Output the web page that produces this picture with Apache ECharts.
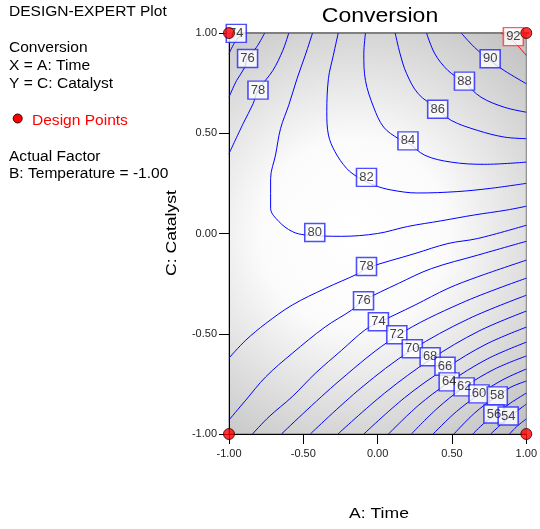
<!DOCTYPE html>
<html>
<head>
<meta charset="utf-8">
<script src="https://cdn.jsdelivr.net/npm/echarts@6/dist/echarts.min.js"></script>
<style>html,body{margin:0;padding:0;background:#fff}#c{width:540px;height:529px}</style>
</head>
<body>
<div id="c"></div>
<script>
// Tick values (both axes)
const tickValues = [-1, -0.5, 0, 0.5, 1];
// Contour polylines: [A: Time, C: Catalyst]
const c92 = [[0.829,1],[0.907,0.963],[1,0.888]];
const c90 = [[0.562,1],[0.651,0.929],[0.751,0.866],[0.851,0.813],[1,0.747]];
const c88 = [[0.329,1],[0.385,0.896],[0.473,0.813],[0.58,0.755],[0.695,0.68],[0.851,0.63],[1,0.605]];
const c86 = [[0.118,1],[0.151,0.896],[0.195,0.797],[0.273,0.697],[0.402,0.622],[0.495,0.564],[0.673,0.514],[0.851,0.481],[1,0.473]];
const c84 = [[-0.082,1],[-0.093,0.896],[-0.082,0.763],[-0.027,0.63],[0.04,0.531],[0.14,0.473],[0.2,0.456],[0.318,0.39],[0.495,0.356],[0.718,0.345],[1,0.356]];
const c82 = [[-0.265,1],[-0.298,0.889],[-0.331,0.773],[-0.342,0.607],[-0.331,0.491],[-0.287,0.408],[-0.209,0.325],[-0.131,0.28],[-0.02,0.24],[0.091,0.217],[0.269,0.202],[0.535,0.209],[0.758,0.225],[1,0.25]];
const c80 = [[-0.438,1],[-0.487,0.889],[-0.542,0.773],[-0.598,0.64],[-0.653,0.524],[-0.687,0.391],[-0.72,0.275],[-0.72,0.126],[-0.665,0.06],[-0.575,0.01],[-0.487,-0.007],[-0.242,-0.014],[0.0,0.0],[0.202,0.035],[0.425,0.063],[0.647,0.092],[0.869,0.117],[1,0.136]];
const c78a = [[-0.598,1],[-0.638,0.913],[-0.705,0.813],[-0.805,0.714],[-0.838,0.647],[-0.905,0.548],[-1,0.398]];
const c78b = [[-1,-0.621],[-0.887,-0.532],[-0.753,-0.449],[-0.575,-0.357],[-0.353,-0.274],[-0.131,-0.2],[-0.071,-0.172],[0.251,-0.1],[0.473,-0.05],[0.673,-0.025],[1,0.041]];
const c76a = [[-0.76,1],[-0.815,0.929],[-0.878,0.874],[-0.893,0.83],[-0.949,0.763],[-1,0.68]];
const c76b = [[-1,-0.93],[-0.887,-0.831],[-0.753,-0.715],[-0.575,-0.598],[-0.353,-0.466],[-0.175,-0.382],[-0.1,-0.337],[0.14,-0.249],[0.362,-0.175],[0.673,-0.108],[1,-0.039]];
const c74a = [[-0.9,1],[-0.953,0.963],[-1,0.896]];
const c74b = [[-0.842,-1],[-0.731,-0.914],[-0.575,-0.814],[-0.42,-0.698],[-0.242,-0.582],[-0.087,-0.482],[0.0,-0.447],[0.251,-0.357],[0.473,-0.274],[0.673,-0.216],[1,-0.133]];
const c72 = [[-0.647,-1],[-0.26,-0.736],[0.127,-0.512],[0.563,-0.347],[1,-0.223]];
const c70 = [[-0.453,-1],[-0.113,-0.771],[0.227,-0.582],[0.613,-0.425],[1,-0.308]];
const c68 = [[-0.267,-1],[0.047,-0.796],[0.36,-0.626],[0.68,-0.487],[1,-0.387]];
const c66 = [[-0.093,-1],[0.183,-0.818],[0.46,-0.671],[0.73,-0.552],[1,-0.467]];
const c64 = [[0.073,-1],[0.273,-0.858],[0.473,-0.746],[0.737,-0.626],[1,-0.542]];
const c62 = [[0.227,-1],[0.4,-0.873],[0.573,-0.771],[0.787,-0.676],[1,-0.611]];
const c60 = [[0.373,-1],[0.53,-0.888],[0.687,-0.801],[0.843,-0.729],[1,-0.676]];
const c58 = [[0.513,-1],[0.653,-0.895],[0.793,-0.816],[0.897,-0.766],[1,-0.736]];
const c56 = [[0.64,-1],[0.713,-0.948],[0.787,-0.905],[0.893,-0.846],[1,-0.796]];
const c54 = [[0.76,-1],[0.887,-0.915],[1,-0.851]];
const c52 = [[0.887,-1],[0.94,-0.96],[1,-0.925]];
const contourLines = [c92,c90,c88,c86,c84,c82,c80,c78a,c78b,c76a,c76b,c74a,c74b,c72,c70,c68,c66,c64,c62,c60,c58,c56,c54,c52];
const contourLevels = [92,90,88,86,84,82,80,78,78,76,76,74,74,72,70,68,66,64,62,60,58,56,54,52];
// Contour label positions [A, C, level]
const contourLabels = [[-0.951,0.998,74],[-0.875,0.873,76],[-0.805,0.715,78],[-0.423,0.005,80],[-0.075,0.28,82],[0.204,0.462,84],[0.404,0.62,86],[0.584,0.76,88],[0.757,0.872,90],[0.913,0.982,92],[-0.075,-0.165,78],[-0.095,-0.335,76],[0.005,-0.44,74],[0.129,-0.505,72],[0.233,-0.575,70],[0.353,-0.615,68],[0.453,-0.662,66],[0.481,-0.74,64],[0.582,-0.765,62],[0.682,-0.8,60],[0.805,-0.81,58],[0.782,-0.9,56],[0.878,-0.91,54]];
// Design points
const designPoints = [[-1,1],[1,1],[-1,-1],[1,-1]];
const highLevel = 92;

const FONT = 'Liberation Sans, Arial, sans-serif';
const chart = echarts.init(document.getElementById('c'), null, {renderer:'canvas'});
const series = [];
contourLines.forEach((pts, i) => {
  series.push({
    type:'line', data: pts, showSymbol:false, smooth:0.35, z:2, silent:true,
    lineStyle:{color: contourLevels[i] >= highLevel ? '#ff0000' : '#0000ff', width:1}
  });
});
series.push({
  type:'scatter', clip:false, z:3, silent:true,
  symbol:'rect', symbolSize:[20,18],
  data: contourLabels.map(d => ({
    value:[d[0], d[1]],
    itemStyle:{color:'#ffffff', borderColor: d[2] >= highLevel ? '#ff3333' : '#2222ff', borderWidth:1.5},
    label:{show:true, formatter: String(d[2]), position:'inside', color:'#111', fontSize:13, fontFamily:FONT}
  }))
});
series.push({
  type:'scatter', clip:false, z:4, silent:true,
  symbol:'circle', symbolSize:11,
  itemStyle:{color:'#ff0000', borderColor:'#330000', borderWidth:1},
  data: designPoints
});

const axisCommon = {
  type:'value', min:-1, max:1, interval:0.5,
  splitLine:{show:false},
  axisLine:{show:true, onZero:false, lineStyle:{color:'#000', width:1}},
  axisTick:{show:true, length:10, lineStyle:{color:'#000'}},
  axisLabel:{formatter: v => v.toFixed(2), fontSize:11, color:'#222', fontFamily:FONT}
};

const txt = (text, x, y, opts) => Object.assign({type:'text', x:x, y:y, scaleX:1.11,
  style:{text:text, fontSize:14, fontFamily:FONT, fill:'#000', verticalAlign:'middle'}}, opts || {});

chart.setOption({
  animation:false,
  grid:{left:229, top:33, width:300, height:401, show:true,
    borderColor:'#7a7a7a', borderWidth:1,
    backgroundColor:{type:'radial', x:0.42, y:0.5, r:0.9,
      colorStops:[{offset:0,color:'#ffffff'},{offset:0.35,color:'#fbfbfb'},{offset:1,color:'#bdbdbd'}]}},
  xAxis: Object.assign({}, axisCommon, {axisLabel:Object.assign({}, axisCommon.axisLabel, {margin:14})}),
  yAxis: Object.assign({}, axisCommon, {axisLabel:Object.assign({}, axisCommon.axisLabel, {margin:12})}),
  series: series,
  graphic:[
    {type:'line', shape:{x1:229, y1:33, x2:529, y2:33}, style:{stroke:'#808080', lineWidth:2}, z:1},
    {type:'text', x:380, y:16, scaleX:1.15, style:{text:'Conversion', fontSize:20, fontFamily:FONT, fill:'#000', align:'center', verticalAlign:'middle'}},
    {type:'text', x:379, y:514, scaleX:1.17, style:{text:'A: Time', fontSize:15, fontFamily:FONT, fill:'#000', align:'center', verticalAlign:'middle'}},
    {type:'text', x:172, y:233, rotation:Math.PI/2, scaleX:1.17, style:{text:'C: Catalyst', fontSize:15, fontFamily:FONT, fill:'#000', align:'center', verticalAlign:'middle'}},
    txt('DESIGN-EXPERT Plot', 9, 12.5),
    txt('Conversion', 9, 48.5),
    txt('X = A: Time', 9, 66.5),
    txt('Y = C: Catalyst', 9, 84.5),
    {type:'circle', shape:{cx:17.7, cy:118.5, r:4.5}, style:{fill:'#ff0000', stroke:'#330000', lineWidth:1}},
    txt('Design Points', 32, 121, {style:{text:'Design Points', fontSize:14, fontFamily:FONT, fill:'#ff0000', verticalAlign:'middle'}}),
    txt('Actual Factor', 9, 157),
    txt('B: Temperature = -1.00', 9, 174.5)
  ]
});
</script>
</body>
</html>
